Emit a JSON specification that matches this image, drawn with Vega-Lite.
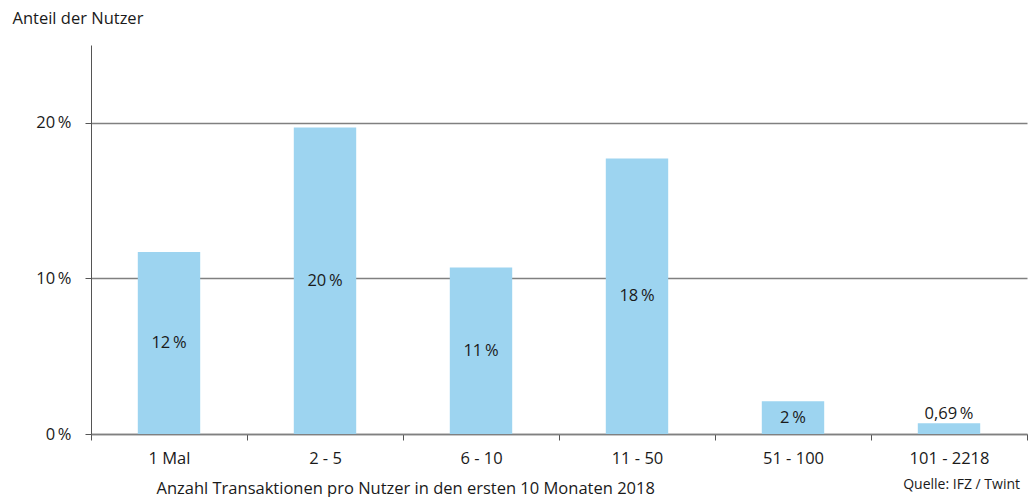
{
  "$schema": "https://vega.github.io/schema/vega-lite/v6.json",
  "width": 936,
  "height": 389,
  "autosize": {"type": "none"},
  "padding": {"left": 91, "top": 45, "right": 2, "bottom": 63},
  "background": "white",
  "config": {
    "locale": {
      "number": {"decimal": ",", "thousands": ".", "grouping": [3], "currency": ["", " €"], "percent": "\u2009%"}
    },
    "font": "Open Sans",
    "view": {"stroke": null},
    "text": {"font": "Open Sans"}
  },
  "title": {
    "text": "Quelle: IFZ / Twint",
    "orient": "bottom",
    "anchor": "end",
    "frame": "group",
    "font": "Open Sans",
    "fontSize": 14,
    "fontWeight": "normal",
    "color": "#1a1a1a",
    "offset": -19,
    "dx": -7
  },
  "data": {
    "values": [
      {"gruppe": "1 Mal", "share": 0.117},
      {"gruppe": "2 - 5", "share": 0.197},
      {"gruppe": "6 - 10", "share": 0.107},
      {"gruppe": "11 - 50", "share": 0.177},
      {"gruppe": "51 - 100", "share": 0.021},
      {"gruppe": "101 - 2218", "share": 0.0069}
    ]
  },
  "encoding": {
    "x": {
      "field": "gruppe",
      "type": "nominal",
      "sort": null,
      "scale": {"paddingInner": 0, "paddingOuter": 0},
      "axis": {
        "title": "Anzahl Transaktionen pro Nutzer in den ersten 10 Monaten 2018",
        "titleFont": "Open Sans",
        "titleFontSize": 16.5,
        "titleFontWeight": "normal",
        "titleColor": "#1a1a1a",
        "titleAnchor": "start",
        "titleAlign": "left",
        "titleBaseline": "alphabetic",
        "titleX": 65,
        "titleY": 59,
        "labelAngle": 0,
        "labelFont": "Open Sans",
        "labelFontSize": 16.5,
        "labelColor": "#1a1a1a",
        "labelPadding": 10,
        "tickBand": "extent",
        "tickExtra": false,
        "tickSize": 6,
        "tickColor": "#555555",
        "domainColor": "#808080",
        "domainWidth": 1.5
      }
    }
  },
  "layer": [
    {
      "mark": {"type": "bar", "color": "#9dd4f0", "width": {"band": 0.4}},
      "encoding": {
        "y": {
          "field": "share",
          "type": "quantitative",
          "scale": {"domain": [0, 0.25], "nice": false},
          "axis": {
            "values": [0, 0.1, 0.2],
            "format": ".0%",
            "title": "Anteil der Nutzer",
            "titleAngle": 0,
            "titleAlign": "left",
            "titleBaseline": "middle",
            "titleX": -79,
            "titleY": -27,
            "titleFont": "Open Sans",
            "titleFontSize": 16.5,
            "titleFontWeight": "normal",
            "titleColor": "#1a1a1a",
            "labelFont": "Open Sans",
            "labelFontSize": 16.5,
            "labelColor": "#1a1a1a",
            "labelPadding": 14,
            "tickSize": 6,
            "tickColor": "#555555",
            "domainColor": "#555555",
            "domainWidth": 1,
            "grid": true,
            "gridColor": "#808080",
            "gridWidth": 1.5
          }
        }
      }
    },
    {
      "transform": [{"filter": "datum.share >= 0.01"}],
      "mark": {"type": "text", "fontSize": 16.5, "color": "#1a1a1a", "baseline": "middle"},
      "encoding": {
        "y": {
          "field": "share",
          "type": "quantitative",
          "scale": {"domain": [0, 0.5], "nice": false},
          "axis": null
        },
        "text": {"field": "share", "type": "quantitative", "format": ".0%"}
      }
    },
    {
      "transform": [{"filter": "datum.share < 0.01"}],
      "mark": {"type": "text", "fontSize": 16.5, "color": "#1a1a1a", "baseline": "bottom", "dy": -1},
      "encoding": {
        "y": {
          "field": "share",
          "type": "quantitative",
          "scale": {"domain": [0, 0.25], "nice": false},
          "axis": null
        },
        "text": {"field": "share", "type": "quantitative", "format": ".2%"}
      }
    }
  ],
  "resolve": {"scale": {"y": "independent"}}
}
